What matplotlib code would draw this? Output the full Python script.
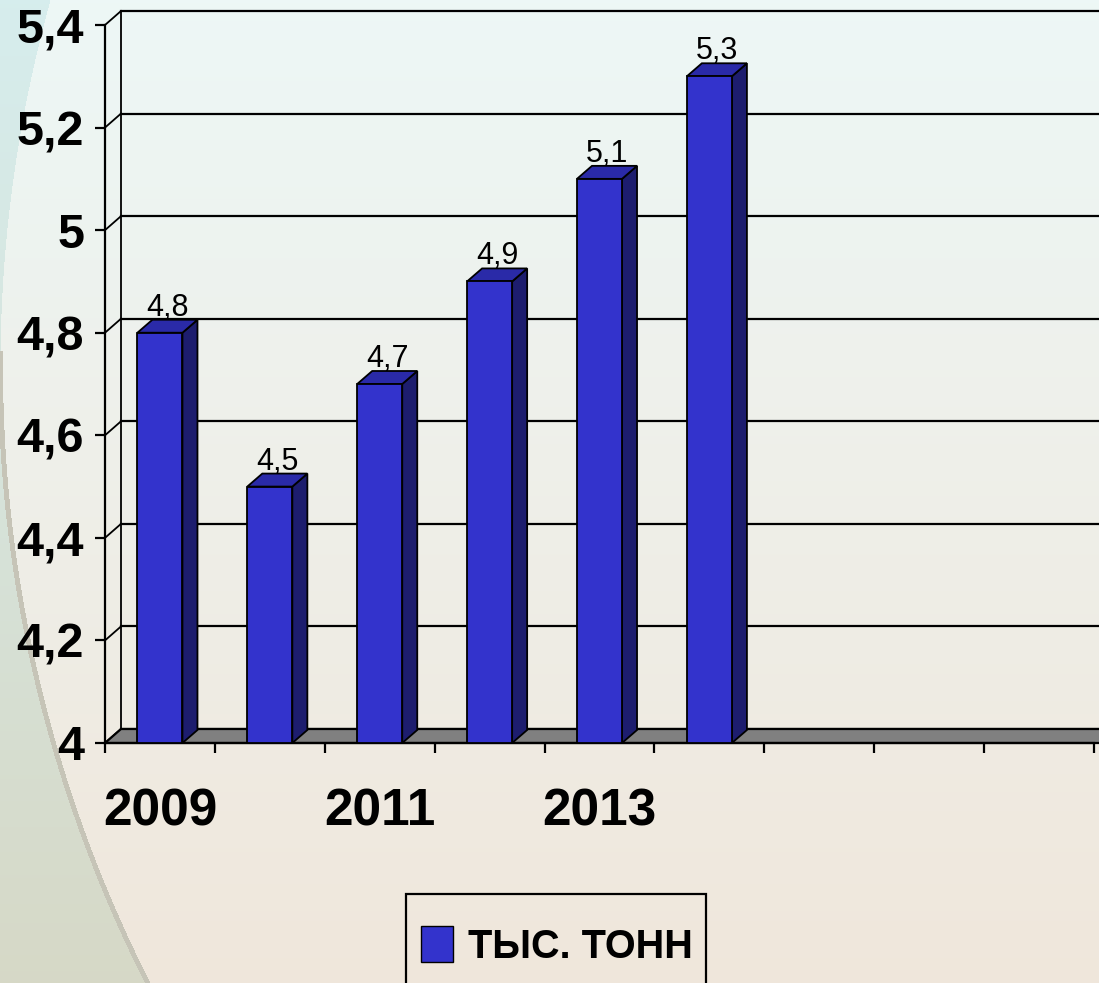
import numpy as np
import matplotlib
matplotlib.use("Agg")
import matplotlib.pyplot as plt
from matplotlib.patches import Rectangle, Polygon, Patch

# données
annees = ["2009", "2010", "2011", "2012", "2013", "2014", "", "", ""]
valeurs = [4.8, 4.5, 4.7, 4.9, 5.1, 5.3]
etiquettes_x = ["2009", "", "2011", "", "2013", "", "", "", ""]
graduations_y = [4.0, 4.2, 4.4, 4.6, 4.8, 5.0, 5.2, 5.4]
etiquettes_y = ["4", "4,2", "4,4", "4,6", "4,8", "5", "5,2", "5,4"]
legende = "ТЫС. ТОНН"

polices = ["Liberation Sans", "DejaVu Sans"]
bleu = "#3333cc"
bleu_cote = "#1d1d6e"
bleu_dessus = "#2a2aa8"

W_PX, H_PX = 1099, 983
fig = plt.figure(figsize=(W_PX / 100, H_PX / 100), dpi=100)

# fond dégradé (style diapositive)
yy, xx = np.mgrid[0:H_PX, 0:W_PX]
t = (yy / H_PX)[..., None]
haut = np.array([0.93, 0.97, 0.965])
bas = np.array([0.94, 0.905, 0.86])
fond = haut * (1 - t) + bas * t
dehors_haut = np.array([0.84, 0.93, 0.93])
dehors_bas = np.array([0.84, 0.85, 0.78])
dehors = dehors_haut * (1 - t) + dehors_bas * t
d = np.hypot(xx - 1365, yy - 366)
masque = (d > 1365)[..., None]
fond = np.where(masque, dehors, fond)
bord = (np.abs(d - 1365) < 2.5)[..., None] & (yy[..., None] > 350)
fond = np.where(bord, np.array([0.78, 0.77, 0.72]), fond)
ax_fond = fig.add_axes([0, 0, 1, 1], zorder=0)
ax_fond.imshow(fond, aspect="auto", extent=[0, 1, 0, 1])
ax_fond.axis("off")

# axe principal (plan avant)
g, dr, b, h = 105, 1094, 743, 25
ax = fig.add_axes([g / W_PX, (H_PX - b) / H_PX, (dr - g) / W_PX, (b - h) / H_PX], zorder=1)
ax.set_facecolor("none")
n = len(annees)
ax.set_xlim(-0.5, n - 0.5)
ax.set_ylim(4.0, 5.4)

px_x = (dr - g) / n
px_y = (b - h) / 1.4
mdx, mdy = 16 / px_x, 14 / px_y      # profondeur des murs
bdx, bdy = 15 / px_x, 13 / px_y      # profondeur des barres

# mur du fond : quadrillage
for v in graduations_y:
    ax.plot([-0.5 + mdx, n + 1], [v + mdy, v + mdy], color="black", lw=1.6, zorder=1, clip_on=False)
    ax.plot([-0.5, -0.5 + mdx], [v, v + mdy], color="black", lw=1.3, zorder=1, clip_on=False)
ax.plot([-0.5 + mdx, -0.5 + mdx], [4.0 + mdy, 5.4 + mdy], color="black", lw=1.3, zorder=1, clip_on=False)

# sol gris
sol = Polygon([(-0.5, 4.0), (n + 1, 4.0), (n + 1 + mdx, 4.0 + mdy), (-0.5 + mdx, 4.0 + mdy)],
              closed=True, facecolor="#808080", edgecolor="black", lw=1.6, zorder=2, clip_on=False)
ax.add_patch(sol)

# barres 3D
larg = 0.41
for i, v in enumerate(valeurs):
    x0, x1 = i - larg / 2, i + larg / 2
    cote = Polygon([(x1, 4.0), (x1 + bdx, 4.0 + bdy), (x1 + bdx, v + bdy), (x1, v)],
                   facecolor=bleu_cote, edgecolor="black", lw=1.3, zorder=3, clip_on=False)
    dessus = Polygon([(x0, v), (x0 + bdx, v + bdy), (x1 + bdx, v + bdy), (x1, v)],
                     facecolor=bleu_dessus, edgecolor="black", lw=1.3, zorder=3, clip_on=False)
    face = Rectangle((x0, 4.0), larg, v - 4.0, facecolor=bleu, edgecolor="black", lw=1.3, zorder=4, clip_on=False)
    ax.add_patch(cote)
    ax.add_patch(dessus)
    ax.add_patch(face)
    ax.text(i + bdx / 2, v + bdy + 4 / px_y, f"{v:.1f}".replace(".", ","), ha="center", va="baseline",
            fontsize=22, family=polices, zorder=5, clip_on=False)

# axes
for s in ["top", "right"]:
    ax.spines[s].set_visible(False)
ax.spines["left"].set_linewidth(1.6)
ax.spines["bottom"].set_linewidth(1.6)
ax.spines["left"].set_zorder(2)
ax.spines["bottom"].set_zorder(2)

ax.set_yticks(graduations_y)
ax.set_yticklabels(etiquettes_y, fontsize=35, fontweight="bold", family=polices)
ax.tick_params(axis="y", length=7, width=1.6, pad=8, direction="out")

ax.set_xticks(np.arange(-0.5, n, 1.0))
ax.set_xticklabels([])
ax.tick_params(axis="x", which="major", length=7, width=1.6, direction="out")
ax.set_xticks(np.arange(n), minor=True)
ax.set_xticklabels(etiquettes_x, minor=True, fontsize=37, fontweight="bold", family=polices)
ax.tick_params(axis="x", which="minor", length=0, pad=32)

# légende
fig.patches.append(Rectangle((406 / W_PX, 1 - 1000 / H_PX), 300 / W_PX, 106 / H_PX,
                             transform=fig.transFigure, facecolor="none", edgecolor="black", lw=1.6, zorder=5))
fig.legend(handles=[Patch(facecolor=bleu, edgecolor="black", label=legende)],
           loc="center left", bbox_to_anchor=(421 / W_PX, 1 - 946 / H_PX), frameon=False,
           borderpad=0, borderaxespad=0, handlelength=0.82, handleheight=1.0, handletextpad=0.38,
           prop={"family": polices, "weight": "bold", "size": 28.5})

fig.savefig("out.png", dpi=100)
